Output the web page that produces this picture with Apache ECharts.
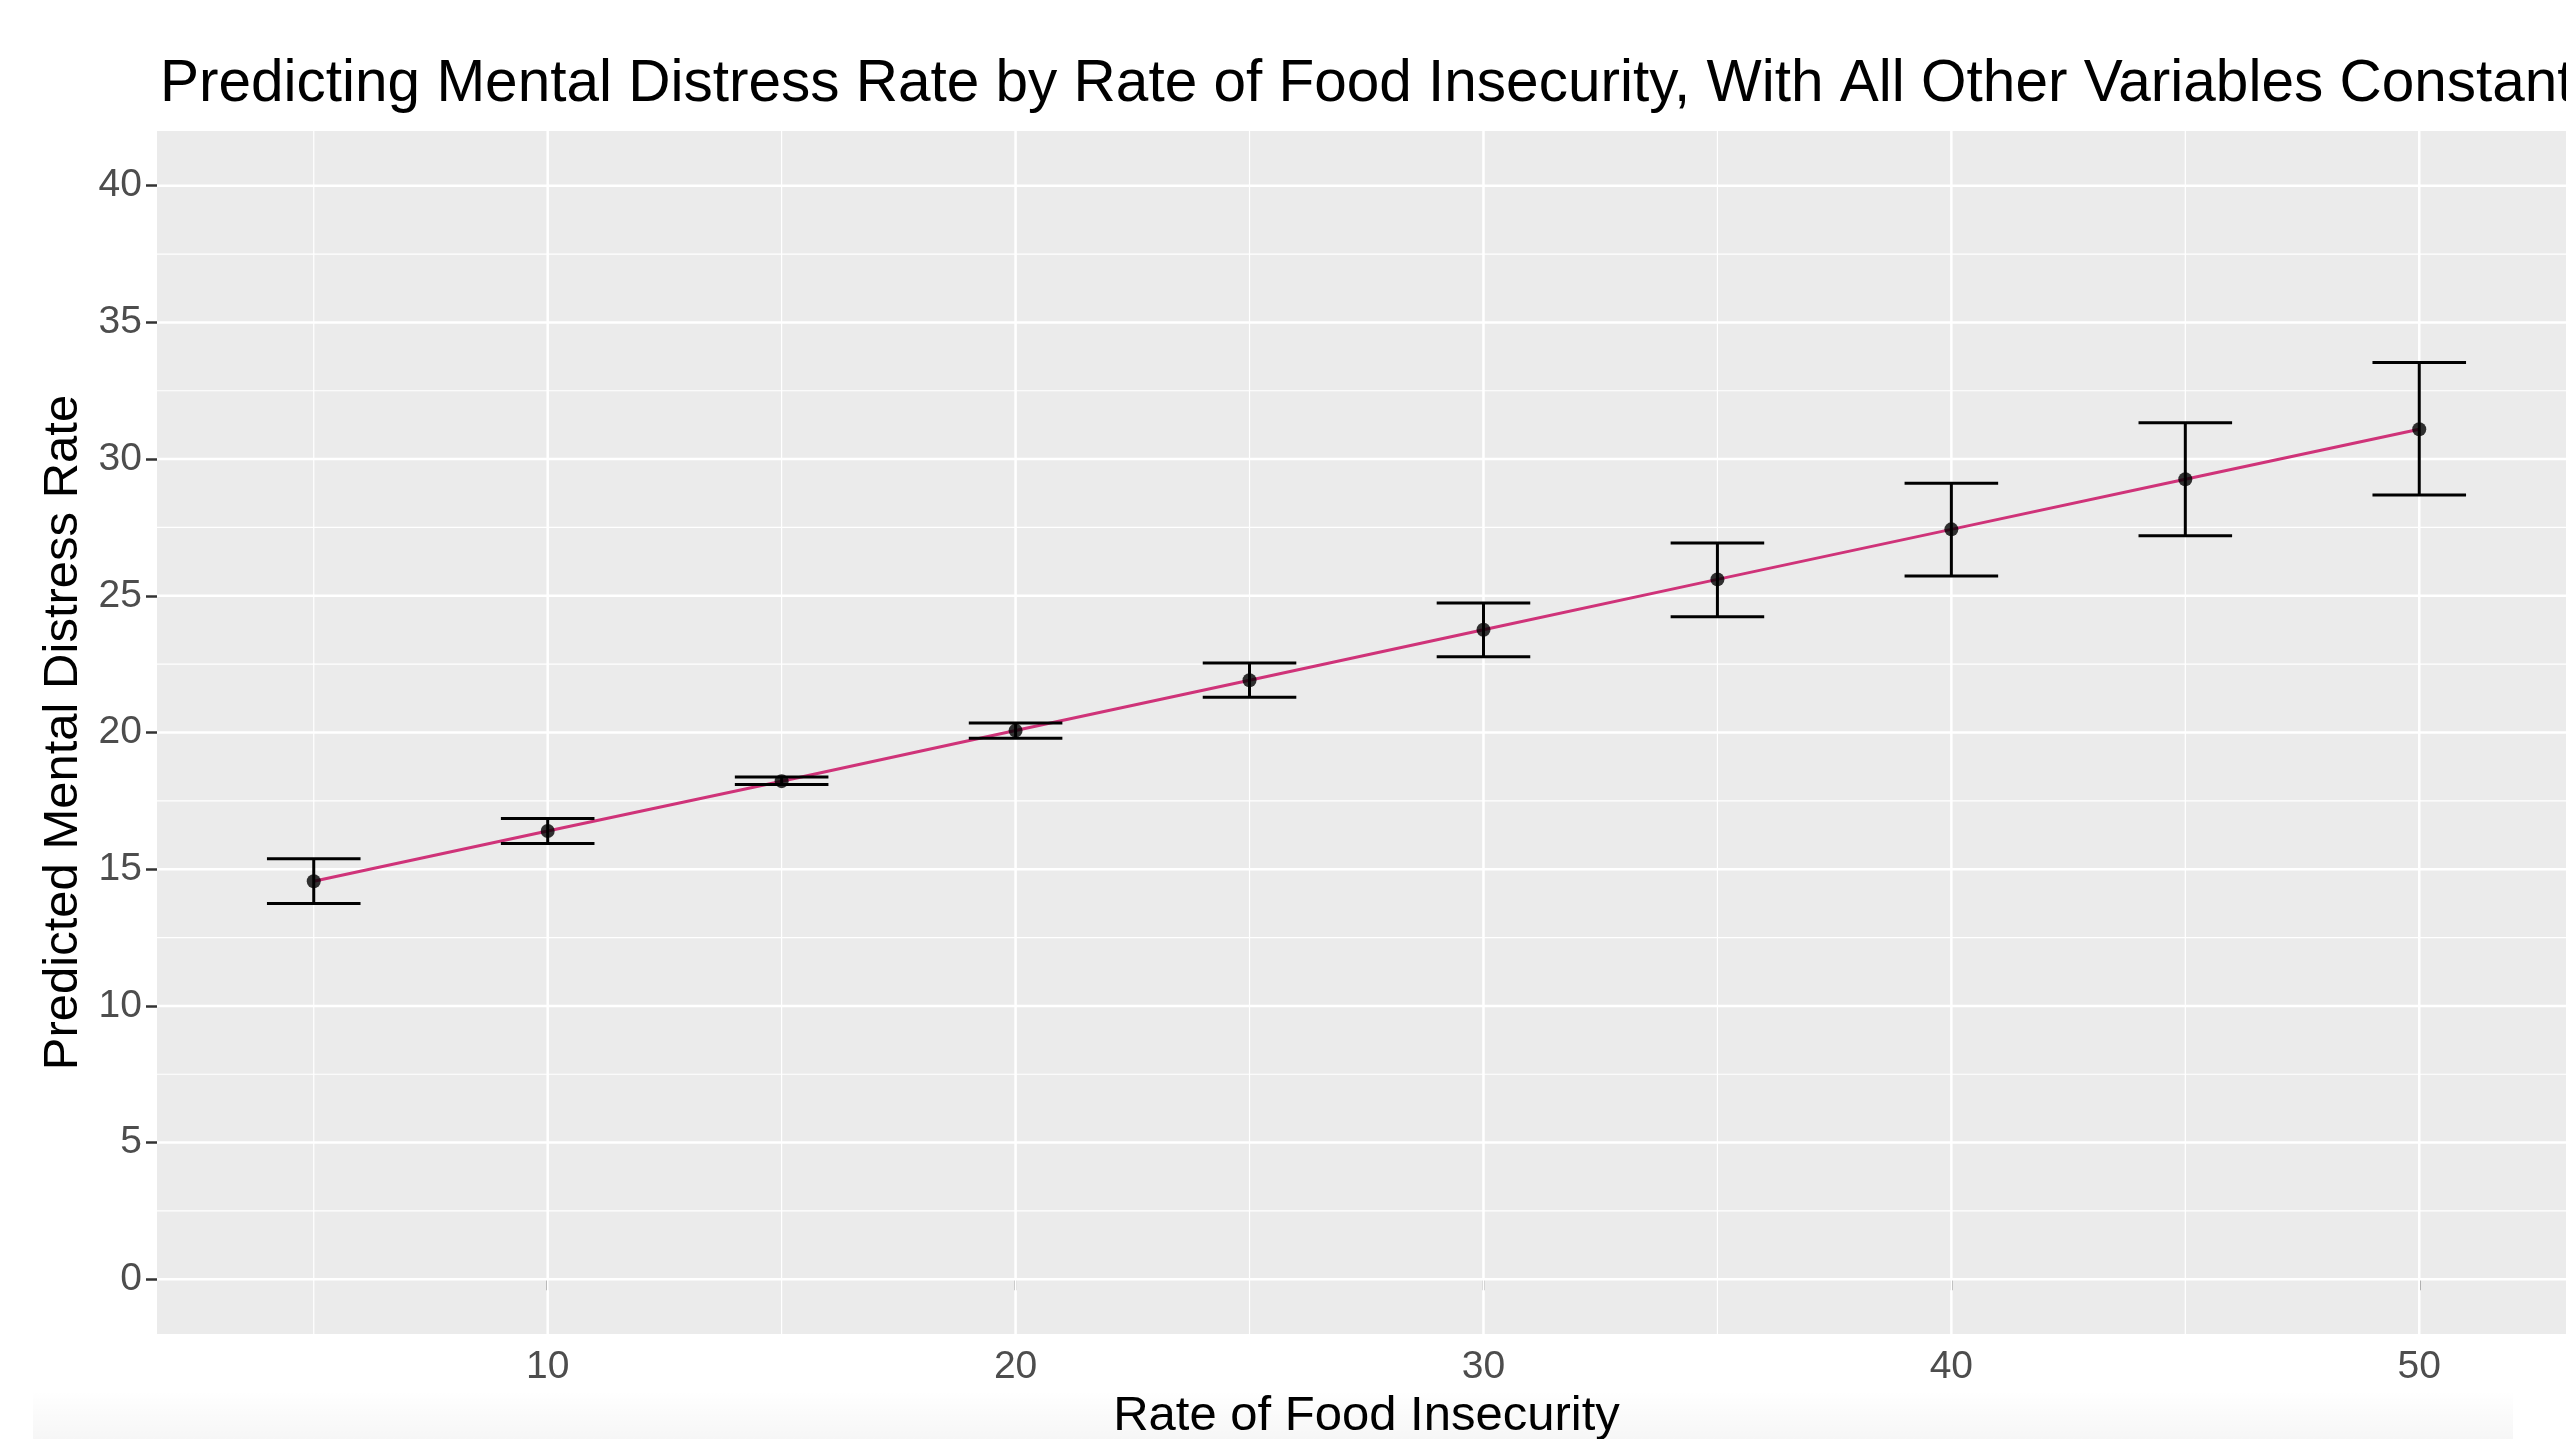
<!DOCTYPE html>
<html>
<head>
<meta charset="utf-8">
<style>
html,body{margin:0;padding:0;background:#fff;overflow:hidden;}
#chart{width:2566px;height:1439px;}
</style>
<script src="https://cdn.jsdelivr.net/npm/echarts@6/dist/echarts.min.js"></script>
</head>
<body>
<div id="chart"></div>
<script>
// ---- data ----
const foodInsecurity = [5, 10, 15, 20, 25, 30, 35, 40, 45, 50];
const predicted = [14.56, 16.40, 18.22, 20.07, 21.91, 23.76, 25.60, 27.43, 29.26, 31.09];
const lowerCI  = [13.75, 15.94, 18.10, 19.79, 21.29, 22.77, 24.23, 25.72, 27.20, 28.69];
const upperCI  = [15.38, 16.85, 18.37, 20.35, 22.54, 24.74, 26.93, 29.12, 31.33, 33.53];
const xMajorTicks = [10, 20, 30, 40, 50];
const xMinorTicks = [5, 15, 25, 35, 45];
const yMajorTicks = [0, 5, 10, 15, 20, 25, 30, 35, 40];
const yMinorTicks = [2.5, 7.5, 12.5, 17.5, 22.5, 27.5, 32.5, 37.5];

const titleText = 'Predicting Mental Distress Rate by Rate of Food Insecurity, With All Other Variables Constant';
const xTitle = 'Rate of Food Insecurity';
const yTitle = 'Predicted Mental Distress Rate';

const FONT = '"Liberation Sans", Arial, Helvetica, sans-serif';
const CAP_HALF = 1; // half-width of error bar caps in x units

const chart = echarts.init(document.getElementById('chart'), null, {renderer: 'canvas'});

function vGrid(params, api) {
  const cs = params.coordSys;
  const x = api.coord([api.value(0), 0])[0];
  return {type: 'line', shape: {x1: x, y1: cs.y, x2: x, y2: cs.y + cs.height},
    style: {stroke: '#ffffff', lineWidth: api.value(1)}};
}
function hGrid(params, api) {
  const cs = params.coordSys;
  const y = api.coord([0, api.value(0)])[1];
  return {type: 'line', shape: {x1: cs.x, y1: y, x2: cs.x + cs.width, y2: y},
    style: {stroke: '#ffffff', lineWidth: api.value(1)}};
}

const option = {
  backgroundColor: '#ffffff',
  animation: false,
  textStyle: {fontFamily: FONT},
  title: {
    text: titleText,
    left: 155,
    top: 50,
    textStyle: {fontFamily: FONT, fontSize: 58.5, fontWeight: 'normal', color: '#000000'}
  },
  graphic: [{
    type: 'rect', z: -10, silent: true,
    shape: {x: 33, y: 1390, width: 2480, height: 49},
    style: {fill: new echarts.graphic.LinearGradient(0, 0, 0, 1, [
      {offset: 0, color: 'rgba(0,0,0,0)'}, {offset: 1, color: 'rgba(0,0,0,0.035)'}])}
  }],
  grid: {
    left: 157, right: -10, top: 131, bottom: 105,
    show: true, backgroundColor: '#EBEBEB', borderWidth: 0,
    containLabel: false,
    outerBoundsMode: 'none'
  },
  xAxis: {
    type: 'value', min: 1.65, max: 53.35,
    name: xTitle, nameLocation: 'middle', nameGap: 56,
    nameTextStyle: {fontFamily: FONT, fontSize: 49, color: '#000000'},
    axisLine: {show: false},
    axisTick: {show: true, length: 11, customValues: xMajorTicks, lineStyle: {color: '#333333', width: 2.5}},
    axisLabel: {show: true, customValues: xMajorTicks, margin: 14, fontFamily: FONT, fontSize: 39, color: '#4D4D4D'},
    splitLine: {show: false}
  },
  yAxis: {
    type: 'value', min: -2, max: 42,
    name: yTitle, nameLocation: 'middle', nameGap: 59, nameRotate: 90,
    nameTextStyle: {fontFamily: FONT, fontSize: 49, color: '#000000'},
    axisLine: {show: false},
    axisTick: {show: true, length: 11, customValues: yMajorTicks, lineStyle: {color: '#333333', width: 2.5}},
    axisLabel: {show: true, customValues: yMajorTicks, margin: 15, fontFamily: FONT, fontSize: 39, color: '#4D4D4D'},
    splitLine: {show: false}
  },
  series: [
    {type: 'custom', name: 'xMinorGrid', z: 1, silent: true, clip: true,
     data: xMinorTicks.map(v => [v, 1.2]), renderItem: vGrid, encode: {x: 0}},
    {type: 'custom', name: 'xMajorGrid', z: 1, silent: true, clip: true,
     data: xMajorTicks.map(v => [v, 2.5]), renderItem: vGrid, encode: {x: 0}},
    {type: 'custom', name: 'yMinorGrid', z: 1, silent: true, clip: true,
     data: yMinorTicks.map(v => [v, 1.2]), renderItem: hGrid, encode: {y: 0}},
    {type: 'custom', name: 'yMajorGrid', z: 1, silent: true, clip: true,
     data: yMajorTicks.map(v => [v, 2.5]), renderItem: hGrid, encode: {y: 0}},
    {
      type: 'line', name: 'fit', z: 3,
      data: foodInsecurity.map((x, i) => [x, predicted[i]]),
      showSymbol: false, symbol: 'none',
      lineStyle: {color: '#CF3379', width: 3}
    },
    {
      type: 'custom', name: 'ci', z: 4,
      data: foodInsecurity.map((x, i) => [x, lowerCI[i], upperCI[i]]),
      encode: {x: 0, y: [1, 2]},
      renderItem: function (params, api) {
        const x = api.value(0);
        const lo = api.coord([x, api.value(1)]);
        const hi = api.coord([x, api.value(2)]);
        const hw = api.size([CAP_HALF, 0])[0];
        const st = {stroke: '#000000', lineWidth: 3};
        return {type: 'group', children: [
          {type: 'line', shape: {x1: lo[0], y1: lo[1], x2: hi[0], y2: hi[1]}, style: st},
          {type: 'line', shape: {x1: lo[0] - hw, y1: lo[1], x2: lo[0] + hw, y2: lo[1]}, style: st},
          {type: 'line', shape: {x1: hi[0] - hw, y1: hi[1], x2: hi[0] + hw, y2: hi[1]}, style: st}
        ]};
      }
    },
    {
      type: 'scatter', name: 'points', z: 5,
      data: foodInsecurity.map((x, i) => [x, predicted[i]]),
      symbol: 'circle', symbolSize: 14,
      itemStyle: {color: '#000000'}
    }
  ]
};
chart.setOption(option);
</script>
</body>
</html>
